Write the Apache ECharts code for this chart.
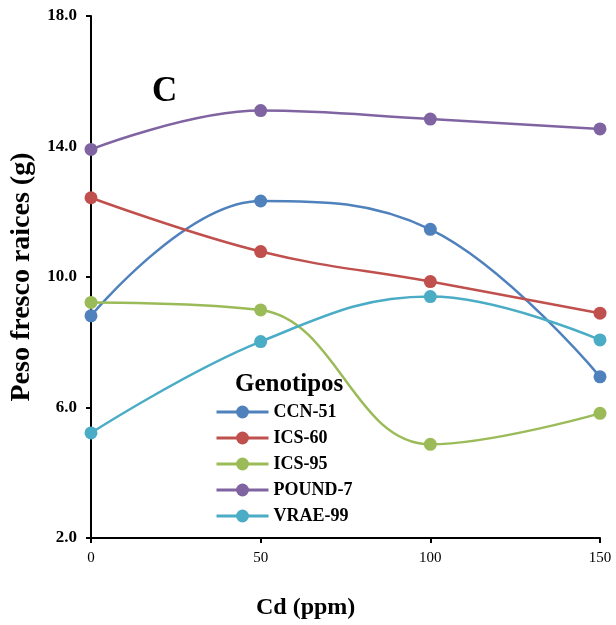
<!DOCTYPE html>
<html>
<head>
<meta charset="utf-8">
<script src="https://cdn.jsdelivr.net/npm/echarts@6/dist/echarts.min.js"></script>
<style>
  html, body { margin: 0; padding: 0; background: #fff; }
  #main { width: 616px; height: 625px; }
</style>
</head>
<body>
<div id="main"></div>
<script>
  // dosis de Cd (ppm)
  var doses = [0, 50, 100, 150];
  // peso fresco de raices (g) por genotipo
  var ccn51 = [8.81, 12.33, 11.46, 6.94];
  var ics60 = [12.43, 10.78, 9.86, 8.89];
  var ics95 = [9.22, 8.99, 4.87, 5.82];
  var pound7 = [13.91, 15.10, 14.84, 14.54];
  var vrae99 = [5.22, 8.02, 9.40, 8.07];
  var names = ['CCN-51', 'ICS-60', 'ICS-95', 'POUND-7', 'VRAE-99'];
  var colors = ['#4F81BD', '#C0504D', '#9BBB59', '#8064A2', '#4BACC6'];

  var serif = '"Liberation Serif", "DejaVu Serif", serif';

  function pairs(vals) {
    return doses.map(function (d, i) { return [d, vals[i]]; });
  }

  function makeSeries(name, vals, color) {
    return {
      name: name,
      type: 'line',
      data: pairs(vals),
      smooth: 0.4,
      symbol: 'circle',
      symbolSize: 13,
      lineStyle: { width: 2.5, color: color },
      itemStyle: { color: color }
    };
  }

  var chart = echarts.init(document.getElementById('main'));

  var option = {
    animation: false,
    grid: { left: 91, right: 16, top: 16, bottom: 87 },
    legend: {
      orient: 'vertical',
      left: 210,
      top: 398,
      itemWidth: 52,
      itemHeight: 16,
      itemGap: 8,
      lineStyle: { width: 3 },
      textStyle: { fontFamily: serif, fontWeight: 'bold', fontSize: 18, color: '#000' },
      data: names
    },
    graphic: [
      { type: 'text', left: 152, top: 74,
        style: { text: 'C', font: 'bold 35px ' + serif, fill: '#000' } },
      { type: 'text', left: 235, top: 372,
        style: { text: 'Genotipos', font: 'bold 25px ' + serif, fill: '#000' } },
      { type: 'text', left: 256, top: 596,
        style: { text: 'Cd (ppm)', font: 'bold 24px ' + serif, fill: '#000' } }
    ],
    xAxis: {
      type: 'value',
      min: 0,
      max: 150,
      interval: 50,
      splitLine: { show: false },
      axisLine: { lineStyle: { color: '#000', width: 2 } },
      axisTick: { show: true, length: 5, lineStyle: { color: '#000', width: 2 } },
      axisLabel: { fontFamily: serif, fontSize: 15, color: '#000', margin: 13 }
    },
    yAxis: {
      type: 'value',
      min: 2,
      max: 18,
      interval: 4,
      name: 'Peso fresco raices (g)',
      nameLocation: 'middle',
      nameGap: 55,
      nameTextStyle: { fontFamily: serif, fontWeight: 'bold', fontSize: 28, color: '#000' },
      splitLine: { show: false },
      axisLine: { show: true, lineStyle: { color: '#000', width: 2 } },
      axisTick: { show: true, length: 5, lineStyle: { color: '#000', width: 2 } },
      axisLabel: {
        fontFamily: serif, fontWeight: 'bold', fontSize: 17, color: '#000', margin: 14,
        formatter: function (v) { return v.toFixed(1); }
      }
    },
    series: [
      makeSeries(names[0], ccn51, colors[0]),
      makeSeries(names[1], ics60, colors[1]),
      makeSeries(names[2], ics95, colors[2]),
      makeSeries(names[3], pound7, colors[3]),
      makeSeries(names[4], vrae99, colors[4])
    ]
  };

  chart.setOption(option);
</script>
</body>
</html>
